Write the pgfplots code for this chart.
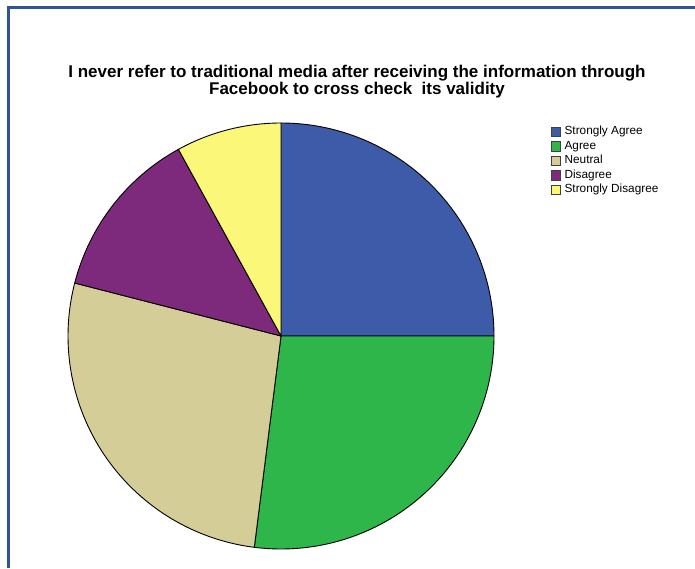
\documentclass[border=0pt]{standalone}
\usepackage{pgfplots}
\usepackage{pgfplotstable}
\pgfplotsset{compat=1.18}
\usepackage{fontspec}
\setmainfont{Liberation Sans}
\definecolor{pie0}{HTML}{3E5BAA}
\definecolor{pie1}{HTML}{2FB64A}
\definecolor{pie2}{HTML}{D4CD97}
\definecolor{pie3}{HTML}{7D297C}
\definecolor{pie4}{HTML}{FBF779}
\definecolor{frame}{HTML}{2F5597}
\pgfplotstableread{
label value
{Strongly Agree} 25
Agree 27
Neutral 27
Disagree 13
{Strongly Disagree} 8
}\piedata
\begin{document}
\begin{tikzpicture}[x=1pt,y=1pt]
\path[use as bounding box] (0,0) rectangle (695,568);
\begin{axis}[
  at={(0,0)}, anchor=south west,
  scale only axis, width=695pt, height=568pt,
  xmin=0, xmax=695, ymin=0, ymax=568,
  hide axis, clip=false,
  legend image code/.code={\draw[#1,draw=black!75,line width=0.8pt] (0pt,-4.8pt) rectangle (9.6pt,4.8pt);},
  legend style={at={(axis cs:550.5,443.5)}, anchor=north west, draw=none, fill=none,
    inner sep=0pt, column sep=1.5pt, row sep=0pt,
    font=\fontsize{11.8}{13}\selectfont,
    nodes={inner sep=2pt, text height=8pt, text depth=2.5pt, anchor=west}},
  legend cell align=left,
]
% frame
\draw[frame, line width=2.6pt] (axis cs:695,560.5) -- (axis cs:8.5,560.5) -- (axis cs:8.5,0);
% title
\node[align=center, anchor=north, font=\fontsize{17}{17}\selectfont\bfseries, inner sep=0pt]
  at (axis cs:357,503) {I never refer to traditional media after receiving the information through\\Facebook to cross check~ its validity};
% pie wedges
\def\cum{90}
\pgfplotsforeachungrouped \i in {0,...,4}{%
  \pgfplotstablegetelem{\i}{value}\of\piedata
  \pgfmathsetmacro\endang{\cum-\pgfplotsretval*3.6}%
  \edef\temp{\noexpand\filldraw[fill=pie\i, draw=black, line width=0.9pt, line join=round]
    (axis cs:281,232) -- ++(\cum:213) arc[start angle=\cum, end angle=\endang, radius=213] -- cycle;}%
  \temp
  \global\let\cum\endang
}
\addlegendimage{fill=pie0}\addlegendentry{Strongly Agree}
\addlegendimage{fill=pie1}\addlegendentry{Agree}
\addlegendimage{fill=pie2}\addlegendentry{Neutral}
\addlegendimage{fill=pie3}\addlegendentry{Disagree}
\addlegendimage{fill=pie4}\addlegendentry{Strongly Disagree}
\end{axis}
\end{tikzpicture}
\end{document}
